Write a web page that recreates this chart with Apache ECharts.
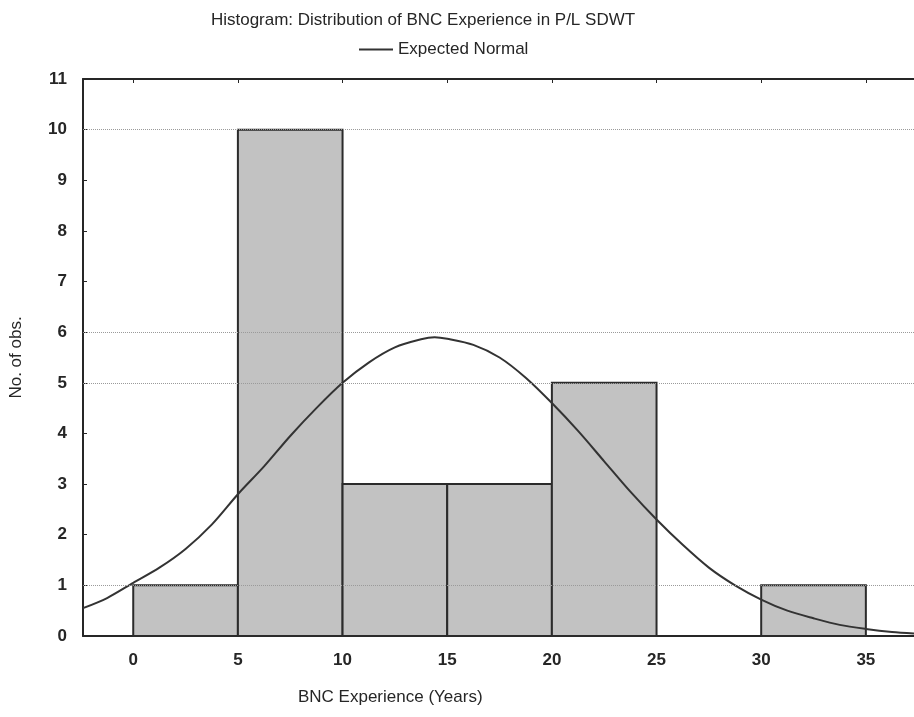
<!DOCTYPE html>
<html>
<head>
<meta charset="utf-8">
<script src="https://cdn.jsdelivr.net/npm/echarts@6/dist/echarts.min.js"></script>
<style>
  html, body { margin: 0; padding: 0; background: #fff; }
  #chart { width: 914px; height: 717px; }
</style>
</head>
<body>
<div id="chart"></div>
<script>
// histogram bins (years) and counts
const binStarts = [0, 5, 10, 15, 20, 25, 30]
const binEnds = [5, 10, 15, 20, 25, 30, 35]
const counts = [1, 10, 3, 3, 5, 0, 1]

// expected normal curve
const normalX = [
    -2.4, -1.25, 0, 1.25, 2.5, 3.75, 5, 6.25, 7.5, 8.75, 10, 11.25, 12.5, 13.75, 14.4, 15, 16.25, 17.5,
    18.75, 20, 21.25, 22.5, 23.75, 25, 26.25, 27.5, 28.75, 30, 31.25, 32.5, 33.75, 35, 36.25, 37.3,
]
const normalY = [
    0.55, 0.75, 1.05, 1.35, 1.72, 2.2, 2.8, 3.35, 3.95, 4.5, 5.0, 5.4, 5.7, 5.86, 5.9, 5.87, 5.75, 5.5,
    5.1, 4.6, 4.05, 3.45, 2.85, 2.3, 1.8, 1.35, 1.0, 0.72, 0.5, 0.35, 0.22, 0.14, 0.08, 0.05,
]

const xTicks = [0, 5, 10, 15, 20, 25, 30, 35]
const gridRefLines = [1, 5, 6, 10]

const font = '"Liberation Sans", Arial, sans-serif'
const ink = '#262626'

const chart = echarts.init(document.getElementById('chart'))

const binData = binStarts.map((s, i) => [s, binEnds[i], counts[i]])
const curveData = normalX.map((x, i) => [x, normalY[i]])

chart.setOption({
    backgroundColor: '#fff',
    animation: false,
    textStyle: { fontFamily: font, color: ink },
    title: {
        text: 'Histogram: Distribution of BNC Experience in P/L SDWT',
        left: 418,
        textAlign: 'center',
        top: 7,
        textStyle: { fontFamily: font, fontSize: 17, fontWeight: 'normal', color: ink },
    },
    legend: {
        data: ['Expected Normal'],
        left: 354,
        top: 36,
        icon: 'rect',
        itemWidth: 34,
        itemHeight: 2,
        itemGap: 8,
        textStyle: { fontFamily: font, fontSize: 17, color: ink },
    },
    grid: { left: 82, right: 0, top: 79, bottom: 81 },
    xAxis: [
        {
            type: 'value',
            min: -2.4,
            max: 37.3,
            splitLine: { show: false },
            axisLine: { show: true, onZero: false, lineStyle: { color: ink, width: 2 } },
            axisTick: { show: false },
            axisLabel: {
                customValues: xTicks,
                fontSize: 17,
                fontWeight: 'bold',
                color: ink,
                margin: 16,
            },
        },
        {
            type: 'value',
            position: 'top',
            min: -2.4,
            max: 37.3,
            splitLine: { show: false },
            axisLine: { show: true, onZero: false, lineStyle: { color: ink, width: 2 } },
            axisTick: { show: true, inside: true, length: 4, customValues: xTicks, lineStyle: { color: ink } },
            axisLabel: { show: false },
        },
    ],
    yAxis: {
        type: 'value',
        min: 0,
        max: 11,
        interval: 1,
        name: 'No. of obs.',
        nameLocation: 'middle',
        nameGap: 58,
        nameTextStyle: { fontFamily: font, fontSize: 17, color: ink },
        splitLine: { show: false },
        axisLine: { show: true, onZero: false, lineStyle: { color: ink, width: 2 } },
        axisTick: { show: true, inside: true, length: 4, lineStyle: { color: ink } },
        axisLabel: { fontSize: 17, fontWeight: 'bold', color: ink, margin: 16 },
    },
    graphic: [
        {
            type: 'text',
            left: 298,
            top: 689,
            style: { text: 'BNC Experience (Years)', font: '17px ' + font, fill: ink },
        },
    ],
    series: [
        {
            name: 'ref',
            type: 'line',
            data: [],
            z: 1,
            silent: true,
            markLine: {
                symbol: 'none',
                silent: true,
                label: { show: false },
                lineStyle: { type: 'dotted', color: '#9a9a9a', width: 1 },
                data: gridRefLines.map((v) => ({ yAxis: v })),
            },
        },
        {
            name: 'Observed',
            type: 'custom',
            z: 2,
            data: binData,
            encode: { x: [0, 1], y: 2 },
            renderItem: (params, api) => {
                const count = api.value(2)
                if (!count) return null
                const p0 = api.coord([api.value(0), 0])
                const p1 = api.coord([api.value(1), count])
                return {
                    type: 'rect',
                    shape: { x: p0[0], y: p1[1], width: p1[0] - p0[0], height: p0[1] - p1[1] },
                    style: { fill: '#c2c2c2', stroke: '#2b2b2b', lineWidth: 2 },
                }
            },
        },
        {
            name: 'Expected Normal',
            type: 'line',
            z: 3,
            data: curveData,
            smooth: 0.3,
            showSymbol: false,
            symbol: 'none',
            lineStyle: { color: '#333', width: 2 },
            itemStyle: { color: '#333' },
        },
    ],
})
</script>
</body>
</html>
